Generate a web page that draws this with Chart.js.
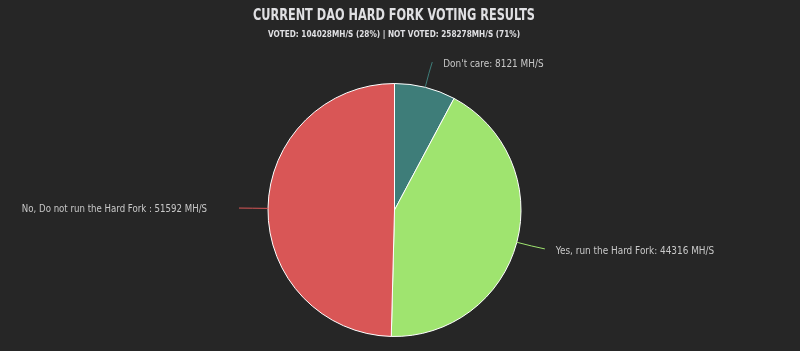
<!DOCTYPE html>
<html><head><meta charset="utf-8">
<script src="https://cdn.jsdelivr.net/npm/chart.js@4/dist/chart.umd.min.js"></script>
<style>html,body{margin:0;padding:0;background:#262626;}canvas{display:block;}</style>
</head><body>
<canvas id="c" width="800" height="351"></canvas>
<script>
const titleText = "CURRENT DAO HARD FORK VOTING RESULTS";
const subtitleText = "VOTED: 104028MH/S (28%) | NOT VOTED: 258278MH/S (71%)";
const categories = ["Don't care", "Yes, run the Hard Fork", "No, Do not run the Hard Fork "];
const hashrates = [8121, 44316, 51592];
const colors = ["#3e7d79", "#9fe46f", "#d95656"];
const FAMILY = "'DejaVu Sans Condensed', 'Liberation Sans', sans-serif";

// draws text horizontally condensed to mimic the narrow display face
function condensedText(ctx, txt, x, y, align, sx) {
  ctx.save();
  ctx.translate(x, y);
  ctx.scale(sx, 1);
  ctx.textAlign = align;
  ctx.fillText(txt, 0, 0);
  ctx.restore();
}

const bgPlugin = {
  id: 'bg',
  beforeDraw(chart) {
    const {ctx, width, height} = chart;
    ctx.save();
    ctx.fillStyle = '#262626';
    ctx.fillRect(0, 0, width, height);
    ctx.restore();
  }
};

const headerPlugin = {
  id: 'header',
  afterDraw(chart) {
    const {ctx} = chart;
    ctx.save();
    ctx.fillStyle = '#e0e0e3';
    ctx.textBaseline = 'middle';
    ctx.font = "bold 15.5px " + FAMILY;
    let w = ctx.measureText(titleText).width;
    condensedText(ctx, titleText, 394, 16, 'center', 282 / w);
    ctx.font = "bold 9.5px " + FAMILY;
    w = ctx.measureText(subtitleText).width;
    condensedText(ctx, subtitleText, 394, 35, 'center', 252 / w);
    ctx.restore();
  }
};

const labelPlugin = {
  id: 'sliceLabels',
  afterDatasetsDraw(chart) {
    const {ctx} = chart;
    const meta = chart.getDatasetMeta(0);
    ctx.save();
    ctx.font = "11px " + FAMILY;
    ctx.textBaseline = 'middle';
    meta.data.forEach((arc, i) => {
      const p = arc.getProps(['x', 'y', 'startAngle', 'endAngle', 'outerRadius'], true);
      const mid = (p.startAngle + p.endAngle) / 2;
      const cos = Math.cos(mid), sin = Math.sin(mid);
      const r = p.outerRadius;
      const x0 = p.x + cos * r, y0 = p.y + sin * r;
      const right = cos >= 0;
      const yl = p.y + sin * (r + 26);
      const xe = p.x + cos * (r + 29);
      const cx1 = p.x + cos * (r + 16), cy1 = p.y + sin * (r + 16);
      ctx.strokeStyle = colors[i];
      ctx.lineWidth = 1;
      ctx.beginPath();
      ctx.moveTo(x0, y0);
      ctx.quadraticCurveTo(cx1, cy1, xe, yl);
      ctx.stroke();
      ctx.fillStyle = '#c8c8c8';
      const txt = categories[i] + ': ' + hashrates[i] + ' MH/S';
      if (right) condensedText(ctx, txt, xe + 11, yl + 2.5, 'left', 0.9);
      else condensedText(ctx, txt, xe - 32, yl + 1, 'right', 0.87);
    });
    ctx.restore();
  }
};

new Chart(document.getElementById('c'), {
  type: 'pie',
  data: {
    labels: categories,
    datasets: [{
      data: hashrates,
      backgroundColor: colors,
      borderColor: '#ffffff',
      borderWidth: 1
    }]
  },
  options: {
    responsive: false,
    animation: false,
    layout: { padding: { top: 83, bottom: 14, left: 0, right: 11 } },
    plugins: {
      legend: { display: false },
      tooltip: { enabled: false },
      title: { display: false },
      subtitle: { display: false }
    }
  },
  plugins: [bgPlugin, labelPlugin, headerPlugin]
});
</script>
</body></html>
